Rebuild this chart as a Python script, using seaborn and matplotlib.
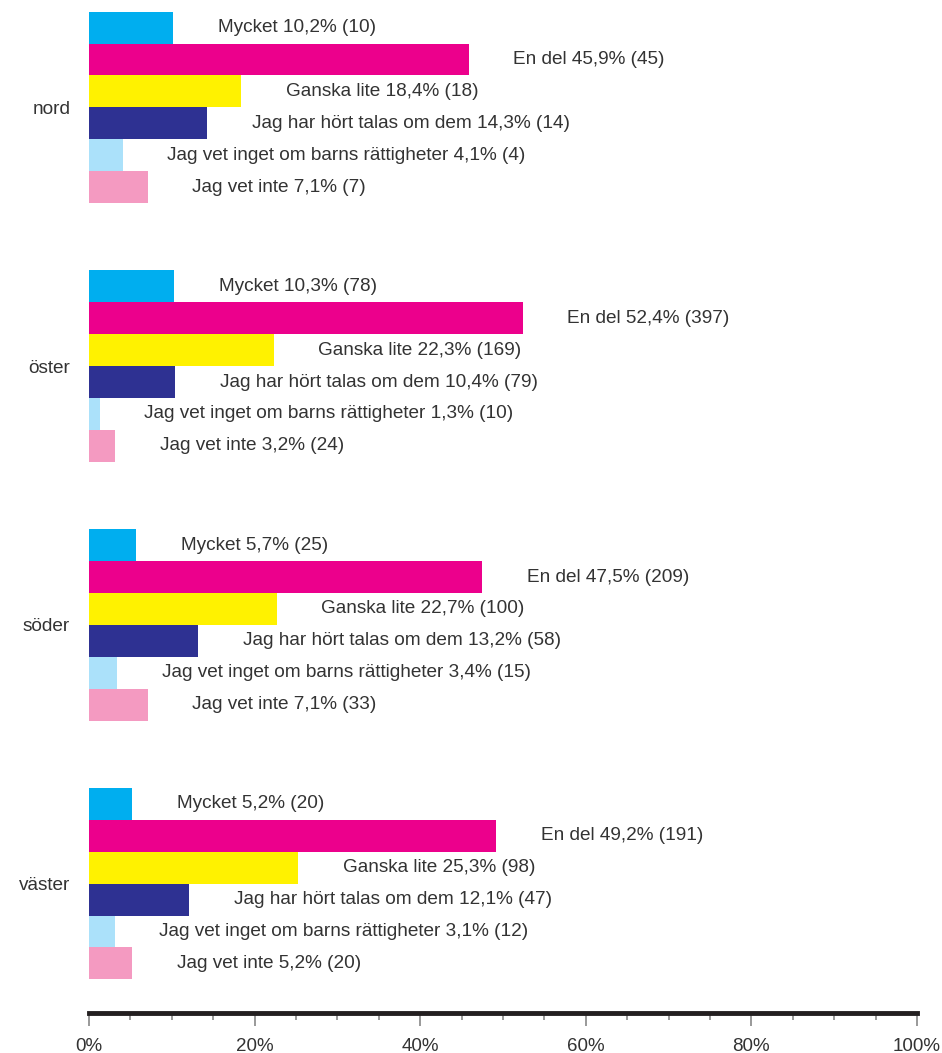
import pandas as pd
import matplotlib.pyplot as plt
import seaborn as sns
from matplotlib.ticker import MultipleLocator, FuncFormatter

regioner = ['nord', 'öster', 'söder', 'väster']
svar = ['Mycket', 'En del', 'Ganska lite', 'Jag har hört talas om dem',
        'Jag vet inget om barns rättigheter', 'Jag vet inte']

procent_nord = [10.2, 45.9, 18.4, 14.3, 4.1, 7.1]
procent_oster = [10.3, 52.4, 22.3, 10.4, 1.3, 3.2]
procent_soder = [5.7, 47.5, 22.7, 13.2, 3.4, 7.1]
procent_vaster = [5.2, 49.2, 25.3, 12.1, 3.1, 5.2]

antal_nord = [10, 45, 18, 14, 4, 7]
antal_oster = [78, 397, 169, 79, 10, 24]
antal_soder = [25, 209, 100, 58, 15, 33]
antal_vaster = [20, 191, 98, 47, 12, 20]

farger = ['#00AEEF', '#EC008C', '#FFF200', '#2E3192', '#ABE1FA', '#F49AC1']

rader = []
for reg, pr, an in zip(regioner,
                       [procent_nord, procent_oster, procent_soder, procent_vaster],
                       [antal_nord, antal_oster, antal_soder, antal_vaster]):
    for s, p, a in zip(svar, pr, an):
        rader.append({'region': reg, 'svar': s, 'procent': p, 'antal': a})
data = pd.DataFrame(rader)

sns.set_style('white')
plt.rcParams['font.family'] = ['Liberation Sans', 'DejaVu Sans']

fig = plt.figure(figsize=(9.42, 10.53), dpi=100)
ax = fig.add_axes([89 / 942, 40 / 1053, 828 / 942, 1013 / 1053])

sns.barplot(data=data, y='region', x='procent', hue='svar', order=regioner,
            hue_order=svar, palette=farger, width=0.74, dodge=True,
            saturation=1, errorbar=None, linewidth=0, ax=ax, legend=False)

# etiketter till höger om staplarna
for i, cont in enumerate(ax.containers):
    sub = data[data['svar'] == svar[i]].set_index('region').loc[regioner]
    etiketter = [f"{svar[i]} {str(p).replace('.', ',')}% ({a})"
                 for p, a in zip(sub['procent'], sub['antal'])]
    ax.bar_label(cont, labels=etiketter, padding=32, fontsize=13.7, color='#333333')

ax.set_xlim(0, 100)
ax.set_ylim(3.5, -0.415)
ax.set_xlabel('')
ax.set_ylabel('')

for s in ['top', 'right', 'left']:
    ax.spines[s].set_visible(False)
ax.spines['bottom'].set_linewidth(3.5)
ax.spines['bottom'].set_color('#231F20')

ax.xaxis.set_major_locator(MultipleLocator(20))
ax.xaxis.set_minor_locator(MultipleLocator(5))
ax.xaxis.set_major_formatter(FuncFormatter(lambda v, p: f'{int(v)}%'))
ax.tick_params(axis='x', which='major', bottom=True, length=9, width=1.2,
               color='#888888', labelsize=13.5, labelcolor='#333333', pad=9)
ax.tick_params(axis='x', which='minor', bottom=True, length=5, width=1.2,
               color='#888888')
ax.tick_params(axis='y', left=False, labelsize=13.7, labelcolor='#333333', pad=10)

fig.savefig('out.png', dpi=100)
